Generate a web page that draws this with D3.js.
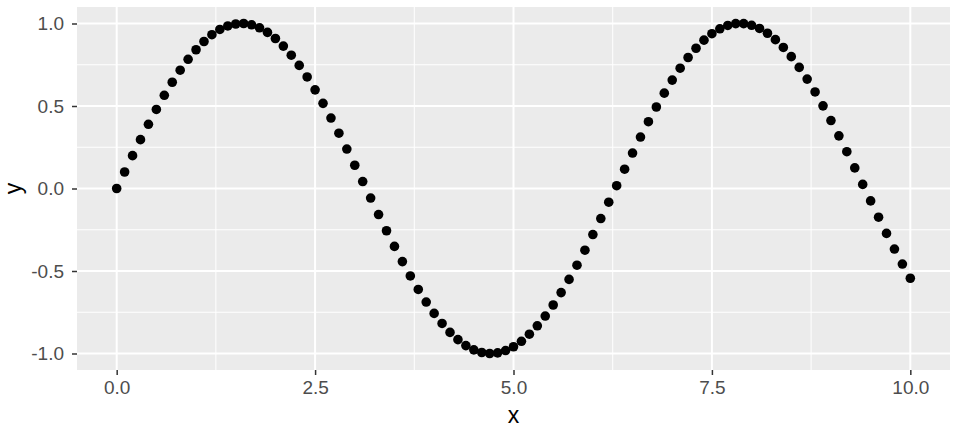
<!DOCTYPE html>
<html>
<head>
<meta charset="utf-8">
<script src="https://cdn.jsdelivr.net/npm/d3@7"></script>
<style>
body { margin: 0; background: #fff; }
text { font-family: "Liberation Sans", Arial, sans-serif; }
</style>
</head>
<body>
<svg width="961" height="431"></svg>
<script>
// values
var xs = [0.0, 0.1, 0.2, 0.3, 0.4, 0.5, 0.6, 0.7, 0.8, 0.9,
  1.0, 1.1, 1.2, 1.3, 1.4, 1.5, 1.6, 1.7, 1.8, 1.9,
  2.0, 2.1, 2.2, 2.3, 2.4, 2.5, 2.6, 2.7, 2.8, 2.9,
  3.0, 3.1, 3.2, 3.3, 3.4, 3.5, 3.6, 3.7, 3.8, 3.9,
  4.0, 4.1, 4.2, 4.3, 4.4, 4.5, 4.6, 4.7, 4.8, 4.9,
  5.0, 5.1, 5.2, 5.3, 5.4, 5.5, 5.6, 5.7, 5.8, 5.9,
  6.0, 6.1, 6.2, 6.3, 6.4, 6.5, 6.6, 6.7, 6.8, 6.9,
  7.0, 7.1, 7.2, 7.3, 7.4, 7.5, 7.6, 7.7, 7.8, 7.9,
  8.0, 8.1, 8.2, 8.3, 8.4, 8.5, 8.6, 8.7, 8.8, 8.9,
  9.0, 9.1, 9.2, 9.3, 9.4, 9.5, 9.6, 9.7, 9.8, 9.9, 10.0];

var ys = [0.000, 0.100, 0.199, 0.296, 0.389, 0.479, 0.565, 0.644, 0.717, 0.783,
  0.841, 0.891, 0.932, 0.964, 0.985, 0.997, 1.000, 0.992, 0.974, 0.946,
  0.909, 0.863, 0.808, 0.746, 0.676, 0.598, 0.516, 0.427, 0.335, 0.239,
  0.141, 0.042, -0.058, -0.158, -0.256, -0.351, -0.443, -0.530, -0.612, -0.688,
  -0.757, -0.818, -0.872, -0.916, -0.952, -0.978, -0.994, -1.000, -0.996, -0.982,
  -0.959, -0.926, -0.883, -0.832, -0.773, -0.706, -0.631, -0.551, -0.465, -0.374,
  -0.279, -0.182, -0.083, 0.017, 0.117, 0.215, 0.312, 0.405, 0.494, 0.578,
  0.657, 0.729, 0.794, 0.850, 0.899, 0.938, 0.968, 0.988, 0.999, 0.999,
  0.989, 0.970, 0.941, 0.902, 0.855, 0.799, 0.734, 0.663, 0.585, 0.501,
  0.412, 0.319, 0.223, 0.125, 0.025, -0.075, -0.174, -0.272, -0.367, -0.458, -0.544];

var xTicks = [0, 2.5, 5, 7.5, 10];
var xMinor = [1.25, 3.75, 6.25, 8.75];
var yTicks = [-1, -0.5, 0, 0.5, 1];
var yMinor = [-0.75, -0.25, 0.25, 0.75];

var svg = d3.select("svg");
var pLeft = 77, pRight = 950, pTop = 7, pBottom = 370;

var x = d3.scaleLinear().domain([-0.5, 10.5]).range([pLeft, pRight]);
var y = d3.scaleLinear().domain([-1.1, 1.1]).range([pBottom, pTop]);

// panel
svg.append("rect")
  .attr("x", pLeft).attr("y", pTop)
  .attr("width", pRight - pLeft).attr("height", pBottom - pTop)
  .attr("fill", "#ebebeb");

var grid = svg.append("g");
grid.selectAll(".xminor").data(xMinor).enter().append("line")
  .attr("x1", d => x(d)).attr("x2", d => x(d))
  .attr("y1", pTop).attr("y2", pBottom)
  .attr("stroke", "#fff").attr("stroke-width", 1);
grid.selectAll(".yminor").data(yMinor).enter().append("line")
  .attr("y1", d => y(d)).attr("y2", d => y(d))
  .attr("x1", pLeft).attr("x2", pRight)
  .attr("stroke", "#fff").attr("stroke-width", 1);
grid.selectAll(".xmajor").data(xTicks).enter().append("line")
  .attr("x1", d => x(d)).attr("x2", d => x(d))
  .attr("y1", pTop).attr("y2", pBottom)
  .attr("stroke", "#fff").attr("stroke-width", 2);
grid.selectAll(".ymajor").data(yTicks).enter().append("line")
  .attr("y1", d => y(d)).attr("y2", d => y(d))
  .attr("x1", pLeft).attr("x2", pRight)
  .attr("stroke", "#fff").attr("stroke-width", 2);

// axes
var fmt = d => d3.format(".1f")(d).replace("\u2212", "-");
var xAxis = svg.append("g")
  .attr("transform", "translate(0," + pBottom + ")")
  .call(d3.axisBottom(x).tickValues(xTicks).tickFormat(fmt).tickSize(5).tickPadding(6));
var yAxis = svg.append("g")
  .attr("transform", "translate(" + pLeft + ",0)")
  .call(d3.axisLeft(y).tickValues(yTicks).tickFormat(fmt).tickSize(5).tickPadding(8));

[xAxis, yAxis].forEach(function(a) {
  a.attr("font-size", null).attr("font-family", null);
  a.select(".domain").remove();
  a.selectAll(".tick line").attr("stroke", "#333").attr("stroke-width", 1.5);
  a.selectAll(".tick text").attr("fill", "#4d4d4d")
    .style("font-size", "19px")
    .style("font-family", "Liberation Sans, Arial, sans-serif");
});

// points
svg.append("g").selectAll("circle")
  .data(xs.map((d, i) => [d, ys[i]]))
  .enter().append("circle")
  .attr("cx", d => x(d[0]))
  .attr("cy", d => y(d[1]))
  .attr("r", 4.8)
  .attr("fill", "#000");

// titles
svg.append("text")
  .attr("x", (pLeft + pRight) / 2).attr("y", 423)
  .attr("text-anchor", "middle")
  .style("font-size", "23px")
  .text("x");
svg.append("text")
  .attr("transform", "translate(21," + ((pTop + pBottom) / 2) + ") rotate(-90)")
  .attr("text-anchor", "middle")
  .style("font-size", "23px")
  .text("y");
</script>
</body>
</html>
